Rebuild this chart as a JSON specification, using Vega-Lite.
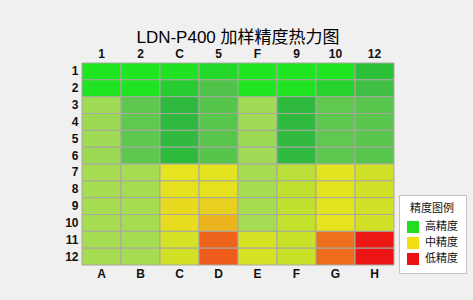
{
  "$schema": "https://vega.github.io/schema/vega-lite/v6.json",
  "autosize": {"type": "none"},
  "width": 312,
  "height": 202,
  "padding": {"left": 82, "top": 63, "right": 79, "bottom": 35},
  "background": "#f0f0f0",
  "title": {
    "text": "LDN-P400 加样精度热力图",
    "anchor": "middle",
    "frame": "group",
    "font": "Liberation Sans, Noto Sans CJK SC",
    "fontSize": 17,
    "fontWeight": "normal",
    "color": "#000000",
    "offset": 0
  },
  "datasets": {
    "cells": [
      {"c":"A","r":1,"v":0.05},{"c":"B","r":1,"v":0.05},{"c":"C","r":1,"v":0.15},{"c":"D","r":1,"v":0.35},{"c":"E","r":1,"v":0.05},{"c":"F","r":1,"v":0.05},{"c":"G","r":1,"v":0.1},{"c":"H","r":1,"v":0.85},
      {"c":"A","r":2,"v":0.1},{"c":"B","r":2,"v":0.1},{"c":"C","r":2,"v":0.6},{"c":"D","r":2,"v":1.7},{"c":"E","r":2,"v":0.05},{"c":"F","r":2,"v":0.1},{"c":"G","r":2,"v":0.5},{"c":"H","r":2,"v":1.4},
      {"c":"A","r":3,"v":2.95},{"c":"B","r":3,"v":2.0},{"c":"C","r":3,"v":1.0},{"c":"D","r":3,"v":1.85},{"c":"E","r":3,"v":2.95},{"c":"F","r":3,"v":1.0},{"c":"G","r":3,"v":2.05},{"c":"H","r":3,"v":1.9},
      {"c":"A","r":4,"v":2.9},{"c":"B","r":4,"v":2.05},{"c":"C","r":4,"v":1.0},{"c":"D","r":4,"v":1.9},{"c":"E","r":4,"v":2.95},{"c":"F","r":4,"v":1.0},{"c":"G","r":4,"v":2.0},{"c":"H","r":4,"v":1.95},
      {"c":"A","r":5,"v":2.95},{"c":"B","r":5,"v":2.0},{"c":"C","r":5,"v":1.05},{"c":"D","r":5,"v":1.9},{"c":"E","r":5,"v":2.9},{"c":"F","r":5,"v":1.05},{"c":"G","r":5,"v":2.05},{"c":"H","r":5,"v":1.95},
      {"c":"A","r":6,"v":2.9},{"c":"B","r":6,"v":2.0},{"c":"C","r":6,"v":0.95},{"c":"D","r":6,"v":1.85},{"c":"E","r":6,"v":2.95},{"c":"F","r":6,"v":1.0},{"c":"G","r":6,"v":2.0},{"c":"H","r":6,"v":1.9},
      {"c":"A","r":7,"v":3.1},{"c":"B","r":7,"v":3.1},{"c":"C","r":7,"v":5.0},{"c":"D","r":7,"v":4.9},{"c":"E","r":7,"v":3.1},{"c":"F","r":7,"v":3.7},{"c":"G","r":7,"v":4.9},{"c":"H","r":7,"v":4.3},
      {"c":"A","r":8,"v":3.1},{"c":"B","r":8,"v":3.1},{"c":"C","r":8,"v":5.05},{"c":"D","r":8,"v":5.05},{"c":"E","r":8,"v":3.1},{"c":"F","r":8,"v":3.9},{"c":"G","r":8,"v":4.9},{"c":"H","r":8,"v":4.4},
      {"c":"A","r":9,"v":3.1},{"c":"B","r":9,"v":3.1},{"c":"C","r":9,"v":5.2},{"c":"D","r":9,"v":5.4},{"c":"E","r":9,"v":3.1},{"c":"F","r":9,"v":3.9},{"c":"G","r":9,"v":4.95},{"c":"H","r":9,"v":4.4},
      {"c":"A","r":10,"v":3.1},{"c":"B","r":10,"v":3.1},{"c":"C","r":10,"v":5.15},{"c":"D","r":10,"v":6.0},{"c":"E","r":10,"v":3.05},{"c":"F","r":10,"v":4.0},{"c":"G","r":10,"v":5.0},{"c":"H","r":10,"v":4.4},
      {"c":"A","r":11,"v":3.1},{"c":"B","r":11,"v":3.1},{"c":"C","r":11,"v":4.5},{"c":"D","r":11,"v":7.0},{"c":"E","r":11,"v":4.6},{"c":"F","r":11,"v":4.2},{"c":"G","r":11,"v":6.85},{"c":"H","r":11,"v":7.95},
      {"c":"A","r":12,"v":3.1},{"c":"B","r":12,"v":3.1},{"c":"C","r":12,"v":4.45},{"c":"D","r":12,"v":7.1},{"c":"E","r":12,"v":4.6},{"c":"F","r":12,"v":4.2},{"c":"G","r":12,"v":6.9},{"c":"H","r":12,"v":8.0}
    ],
    "legend": [
      {"level": "高精度"}, {"level": "中精度"}, {"level": "低精度"}
    ]
  },
  "resolve": {"axis": {"x": "independent"}},
  "layer": [
    {
      "data": {"name": "legend"},
      "mark": {"type": "square", "opacity": 0, "size": 1},
      "encoding": {
        "color": {
          "field": "level",
          "type": "nominal",
          "scale": {"domain": ["高精度", "中精度", "低精度"], "range": ["#22dd22", "#f0e010", "#ee1111"]},
          "legend": {
            "title": "精度图例",
            "orient": "none",
            "legendX": 317,
            "legendY": 132,
            "symbolType": "square",
            "symbolSize": 144,
            "symbolOpacity": 1,
            "symbolStrokeWidth": 0,
            "padding": 8,
            "fillColor": "#ffffff",
            "strokeColor": "#c4c4c4",
            "titleFont": "Noto Sans CJK SC",
            "titleFontSize": 11,
            "titleFontWeight": "normal",
            "titleColor": "#111111",
            "titleAnchor": "middle",
            "titlePadding": 7,
            "labelFont": "Noto Sans CJK SC",
            "labelFontSize": 11,
            "labelColor": "#111111",
            "labelOffset": 6,
            "rowPadding": 4
          }
        }
      }
    },
    {
      "data": {"name": "cells"},
      "mark": {"type": "rect", "stroke": "#a8a8a0", "strokeWidth": 1},
      "encoding": {
        "x": {
          "field": "c", "type": "nominal", "title": null,
          "scale": {"paddingInner": 0, "paddingOuter": 0},
          "axis": {"orient": "bottom", "labelPadding": 3}
        },
        "y": {
          "field": "r", "type": "ordinal", "title": null,
          "scale": {"paddingInner": 0, "paddingOuter": 0},
          "axis": {"orient": "left", "labelPadding": 4}
        },
        "fill": {
          "field": "v", "type": "quantitative", "legend": null,
          "scale": {
            "domain": [0, 1, 2, 3, 4, 5, 6, 7, 8],
            "range": ["#1ee81e", "#2fb93e", "#5dc74f", "#a3dc55", "#c3e02c", "#e6e31f", "#ecb41e", "#ee641c", "#ec1414"],
            "interpolate": "rgb"
          }
        }
      }
    },
    {
      "data": {"name": "cells"},
      "mark": {"type": "rect", "opacity": 0},
      "encoding": {
        "x": {
          "field": "c", "type": "nominal", "title": null,
          "axis": {"orient": "top", "labelPadding": 3, "labelExpr": "['1','2','C','5','F','9','10','12'][indexof('ABCDEFGH', datum.value)]"}
        },
        "y": {"field": "r", "type": "ordinal", "title": null}
      }
    }
  ],
  "config": {
    "view": {"stroke": null},
    "axis": {
      "domain": false,
      "ticks": false,
      "grid": false,
      "labelFont": "Liberation Sans",
      "labelFontSize": 12,
      "labelFontWeight": "bold",
      "labelColor": "#111111",
      "labelAngle": 0
    }
  }
}
